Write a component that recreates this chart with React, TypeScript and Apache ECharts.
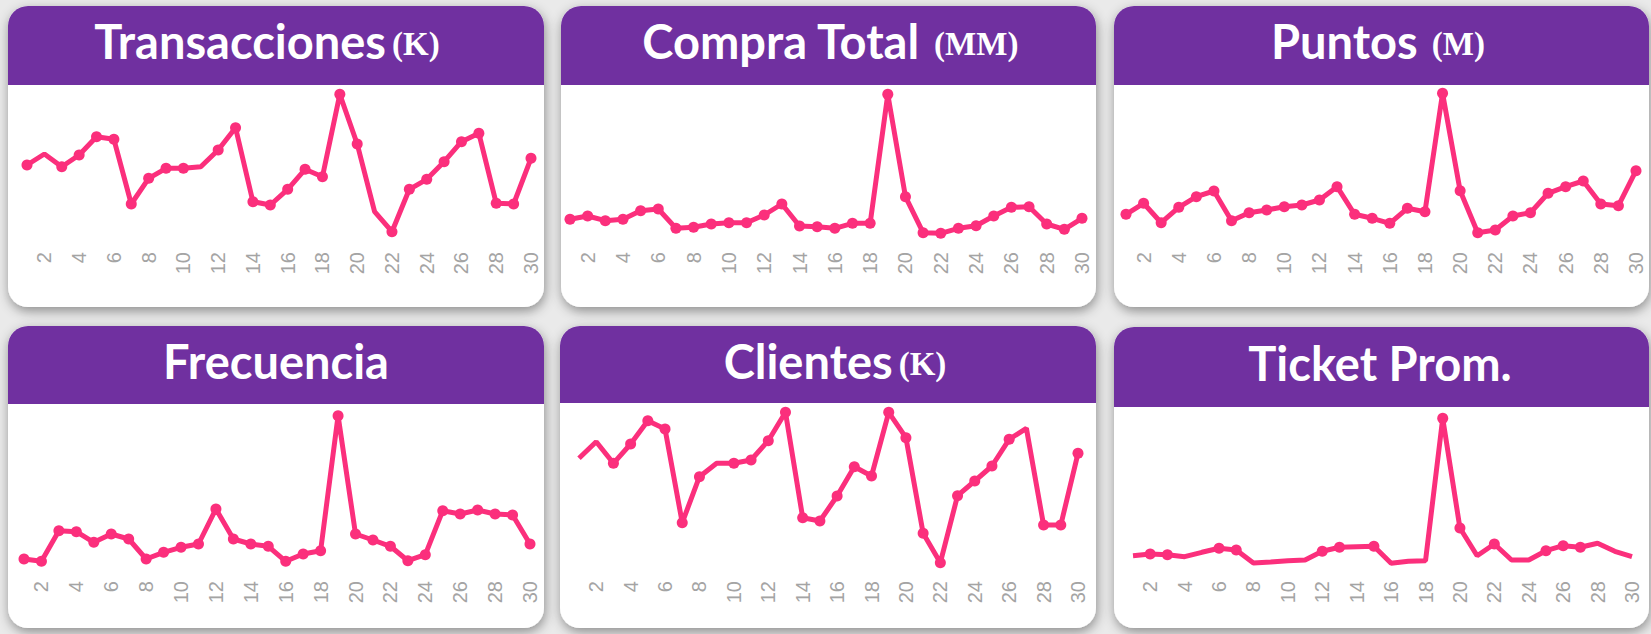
import React, { useEffect, useRef } from 'react';
import * as echarts from 'echarts';

// ---- data (y axis has no scale, values in relative units) ----
const days = ['1','2','3','4','5','6','7','8','9','10','11','12','13','14','15','16','17','18','19','20','21','22','23','24','25','26','27','28','29','30'];

const titles = ['Transacciones', 'Compra Total', 'Puntos', 'Frecuencia', 'Clientes', 'Ticket Prom.'];
const units = ['(K)', ' (MM)', ' (M)', '', '(K)', ''];

const transacciones = [75, 86, 73.3, 85, 103.3, 100.7, 36, 61.7, 71.7, 71.7, 73.3, 90, 112.3, 38.3, 35, 50.7, 70.7, 63.3, 145.7, 96, 28.3, 8.3, 50.7, 60.7, 78.3, 98.3, 106.7, 36.7, 36, 81.7];
const compraTotal = [20.7, 24, 19.3, 20.7, 29.3, 31, 11.7, 12.7, 16, 17.3, 17.3, 25, 36, 14, 13.3, 11.7, 16.7, 16.7, 145.7, 43.3, 7.3, 6.7, 11.7, 14.3, 24, 32.7, 33.3, 16, 10.7, 21.7];
const puntos = [25.7, 36.7, 17.3, 32.7, 43.3, 49, 19.3, 27.3, 30, 33.3, 35, 40, 53.3, 25.7, 21.7, 16.7, 31.7, 28.3, 146.7, 49.3, 7.3, 10, 24, 27.3, 46.7, 53.3, 59, 36, 34.3, 69.3];
const frecuencia = [11, 8.7, 39.3, 38.3, 27.7, 36, 31, 11, 17.7, 22.7, 26, 61, 31, 26, 23.7, 8.7, 16, 19.3, 154.3, 36, 30, 23.7, 9.3, 15.3, 59.3, 56, 60, 56, 55, 26];
const clientes = [111.7, 128.3, 106.7, 126, 149.3, 141, 47.3, 93.3, 106.7, 106.7, 110, 129.3, 157.7, 52.3, 49, 74, 103.3, 94, 157.7, 132.3, 36.7, 7.3, 74.3, 89, 104, 130.7, 141.7, 45, 45, 116.7];
const ticketProm = [14.3, 16, 15.3, 13.3, 17.7, 21.7, 20, 7, 8, 9.3, 10, 18.7, 22.7, 23.3, 23.7, 6.7, 8.7, 9.3, 151.7, 42, 14.3, 26, 10, 10, 19.3, 24.3, 22.7, 26.7, 18.7, 13.3];

// days whose point is drawn without a dot in the reference
const transaccionesNoDot = [2, 11, 21];
const compraTotalNoDot: number[] = [];
const puntosNoDot: number[] = [];
const frecuenciaNoDot: number[] = [];
const clientesNoDot = [1, 2, 9, 27];
const ticketPromNoDot = [1, 4, 5, 8, 9, 10, 11, 14, 16, 17, 18, 21, 23, 24, 28, 29, 30];

const seriesData = [transacciones, compraTotal, puntos, frecuencia, clientes, ticketProm];
const noDots = [transaccionesNoDot, compraTotalNoDot, puntosNoDot, frecuenciaNoDot, clientesNoDot, ticketPromNoDot];

// ---- layout ----
const W = 1651;
const H = 634;
const cards = [
  { x: 8, y: 6, w: 536, h: 301, hh: 79 },
  { x: 561, y: 6, w: 535, h: 301, hh: 79 },
  { x: 1114, y: 6, w: 535, h: 301, hh: 79 },
  { x: 8, y: 326, w: 536, h: 302, hh: 78 },
  { x: 560, y: 326, w: 536, h: 302, hh: 77 },
  { x: 1114, y: 327, w: 535, h: 301, hh: 80 },
];
const grids = [
  { left: 27, width: 504, top: 90, height: 150, margin: 12 },
  { left: 570, width: 512, top: 90, height: 150, margin: 12 },
  { left: 1126, width: 510, top: 90, height: 150, margin: 12 },
  { left: 24, width: 506, top: 410, height: 160, margin: 11 },
  { left: 579, width: 499, top: 410, height: 160, margin: 11 },
  { left: 1133, width: 499, top: 410, height: 160, margin: 11 },
];
const titlePos = [
  { cx: 267, top: 16 },
  { cx: 830, top: 16 },
  { cx: 1378, top: 16 },
  { cx: 276, top: 336 },
  { cx: 835, top: 336 },
  { cx: 1380, top: 338 },
];

const PURPLE = '#7030a0';
const PINK = '#fb2f7c';

export default function App() {
  const ref = useRef<HTMLDivElement>(null);

  useEffect(() => {
    if (!ref.current) return;
    const chart = echarts.init(ref.current, undefined, { renderer: 'svg' });

    const graphics: any[] = [
      { type: 'rect', z: 0, shape: { x: 0, y: 0, width: W, height: H }, style: { fill: '#eaeaea' } },
    ];
    cards.forEach((c) => {
      graphics.push({
        type: 'rect', z: 1,
        shape: { x: c.x, y: c.y, width: c.w, height: c.h, r: 20 },
        style: { fill: '#ffffff', shadowBlur: 12, shadowColor: 'rgba(0,0,0,0.4)', shadowOffsetX: 1, shadowOffsetY: 4 },
      });
    });
    cards.forEach((c) => {
      graphics.push({
        type: 'rect', z: 1.5,
        shape: { x: c.x, y: c.y, width: c.w, height: c.hh, r: [20, 20, 0, 0] },
        style: { fill: PURPLE },
      });
    });

    const option: any = {
      animation: false,
      backgroundColor: '#eaeaea',
      graphic: { elements: graphics },
      title: titles.map((t, i) => ({
        text: units[i] ? `{a|${t}}{b|${units[i]}}` : `{a|${t}}`,
        left: titlePos[i].cx,
        top: titlePos[i].top,
        textAlign: 'center',
        padding: 0,
        z: 10,
        textStyle: {
          rich: {
            a: { fontFamily: 'Lato', fontWeight: 'bold', fontSize: 47, color: '#ffffff', lineHeight: 50 },
            b: { fontFamily: 'Liberation Serif', fontWeight: 'bold', fontSize: 33, color: '#ffffff', lineHeight: 50, padding: [6, 0, 0, 6] },
          },
        },
      })),
      grid: grids.map((g) => ({ left: g.left, top: g.top, width: g.width, height: g.height, containLabel: false })),
      xAxis: grids.map((g, i) => ({
        type: 'category',
        gridIndex: i,
        data: days,
        boundaryGap: false,
        z: 5,
        axisLine: { show: false },
        axisTick: { show: false },
        splitLine: { show: false },
        axisLabel: {
          rotate: 90,
          margin: g.margin,
          interval: (idx: number) => idx % 2 === 1,
          color: '#a4a4a4',
          fontFamily: 'Liberation Sans',
          fontSize: 20,
        },
      })),
      yAxis: grids.map((g, i) => ({
        type: 'value',
        gridIndex: i,
        min: 0,
        max: g.height,
        show: false,
        splitLine: { show: false },
      })),
      series: seriesData.map((d, i) => ({
        type: 'line',
        xAxisIndex: i,
        yAxisIndex: i,
        data: d.map((v, k) => (noDots[i].includes(k + 1) ? { value: v, symbol: 'none' } : v)),
        symbol: 'circle',
        symbolSize: 11,
        showSymbol: true,
        lineStyle: { color: PINK, width: 5 },
        itemStyle: { color: PINK },
        z: 6,
      })),
    };

    chart.setOption(option);
    return () => chart.dispose();
  }, []);

  return (
    <div
      ref={ref}
      style={{ position: 'fixed', left: 0, top: 0, width: W, height: H }}
    />
  );
}
